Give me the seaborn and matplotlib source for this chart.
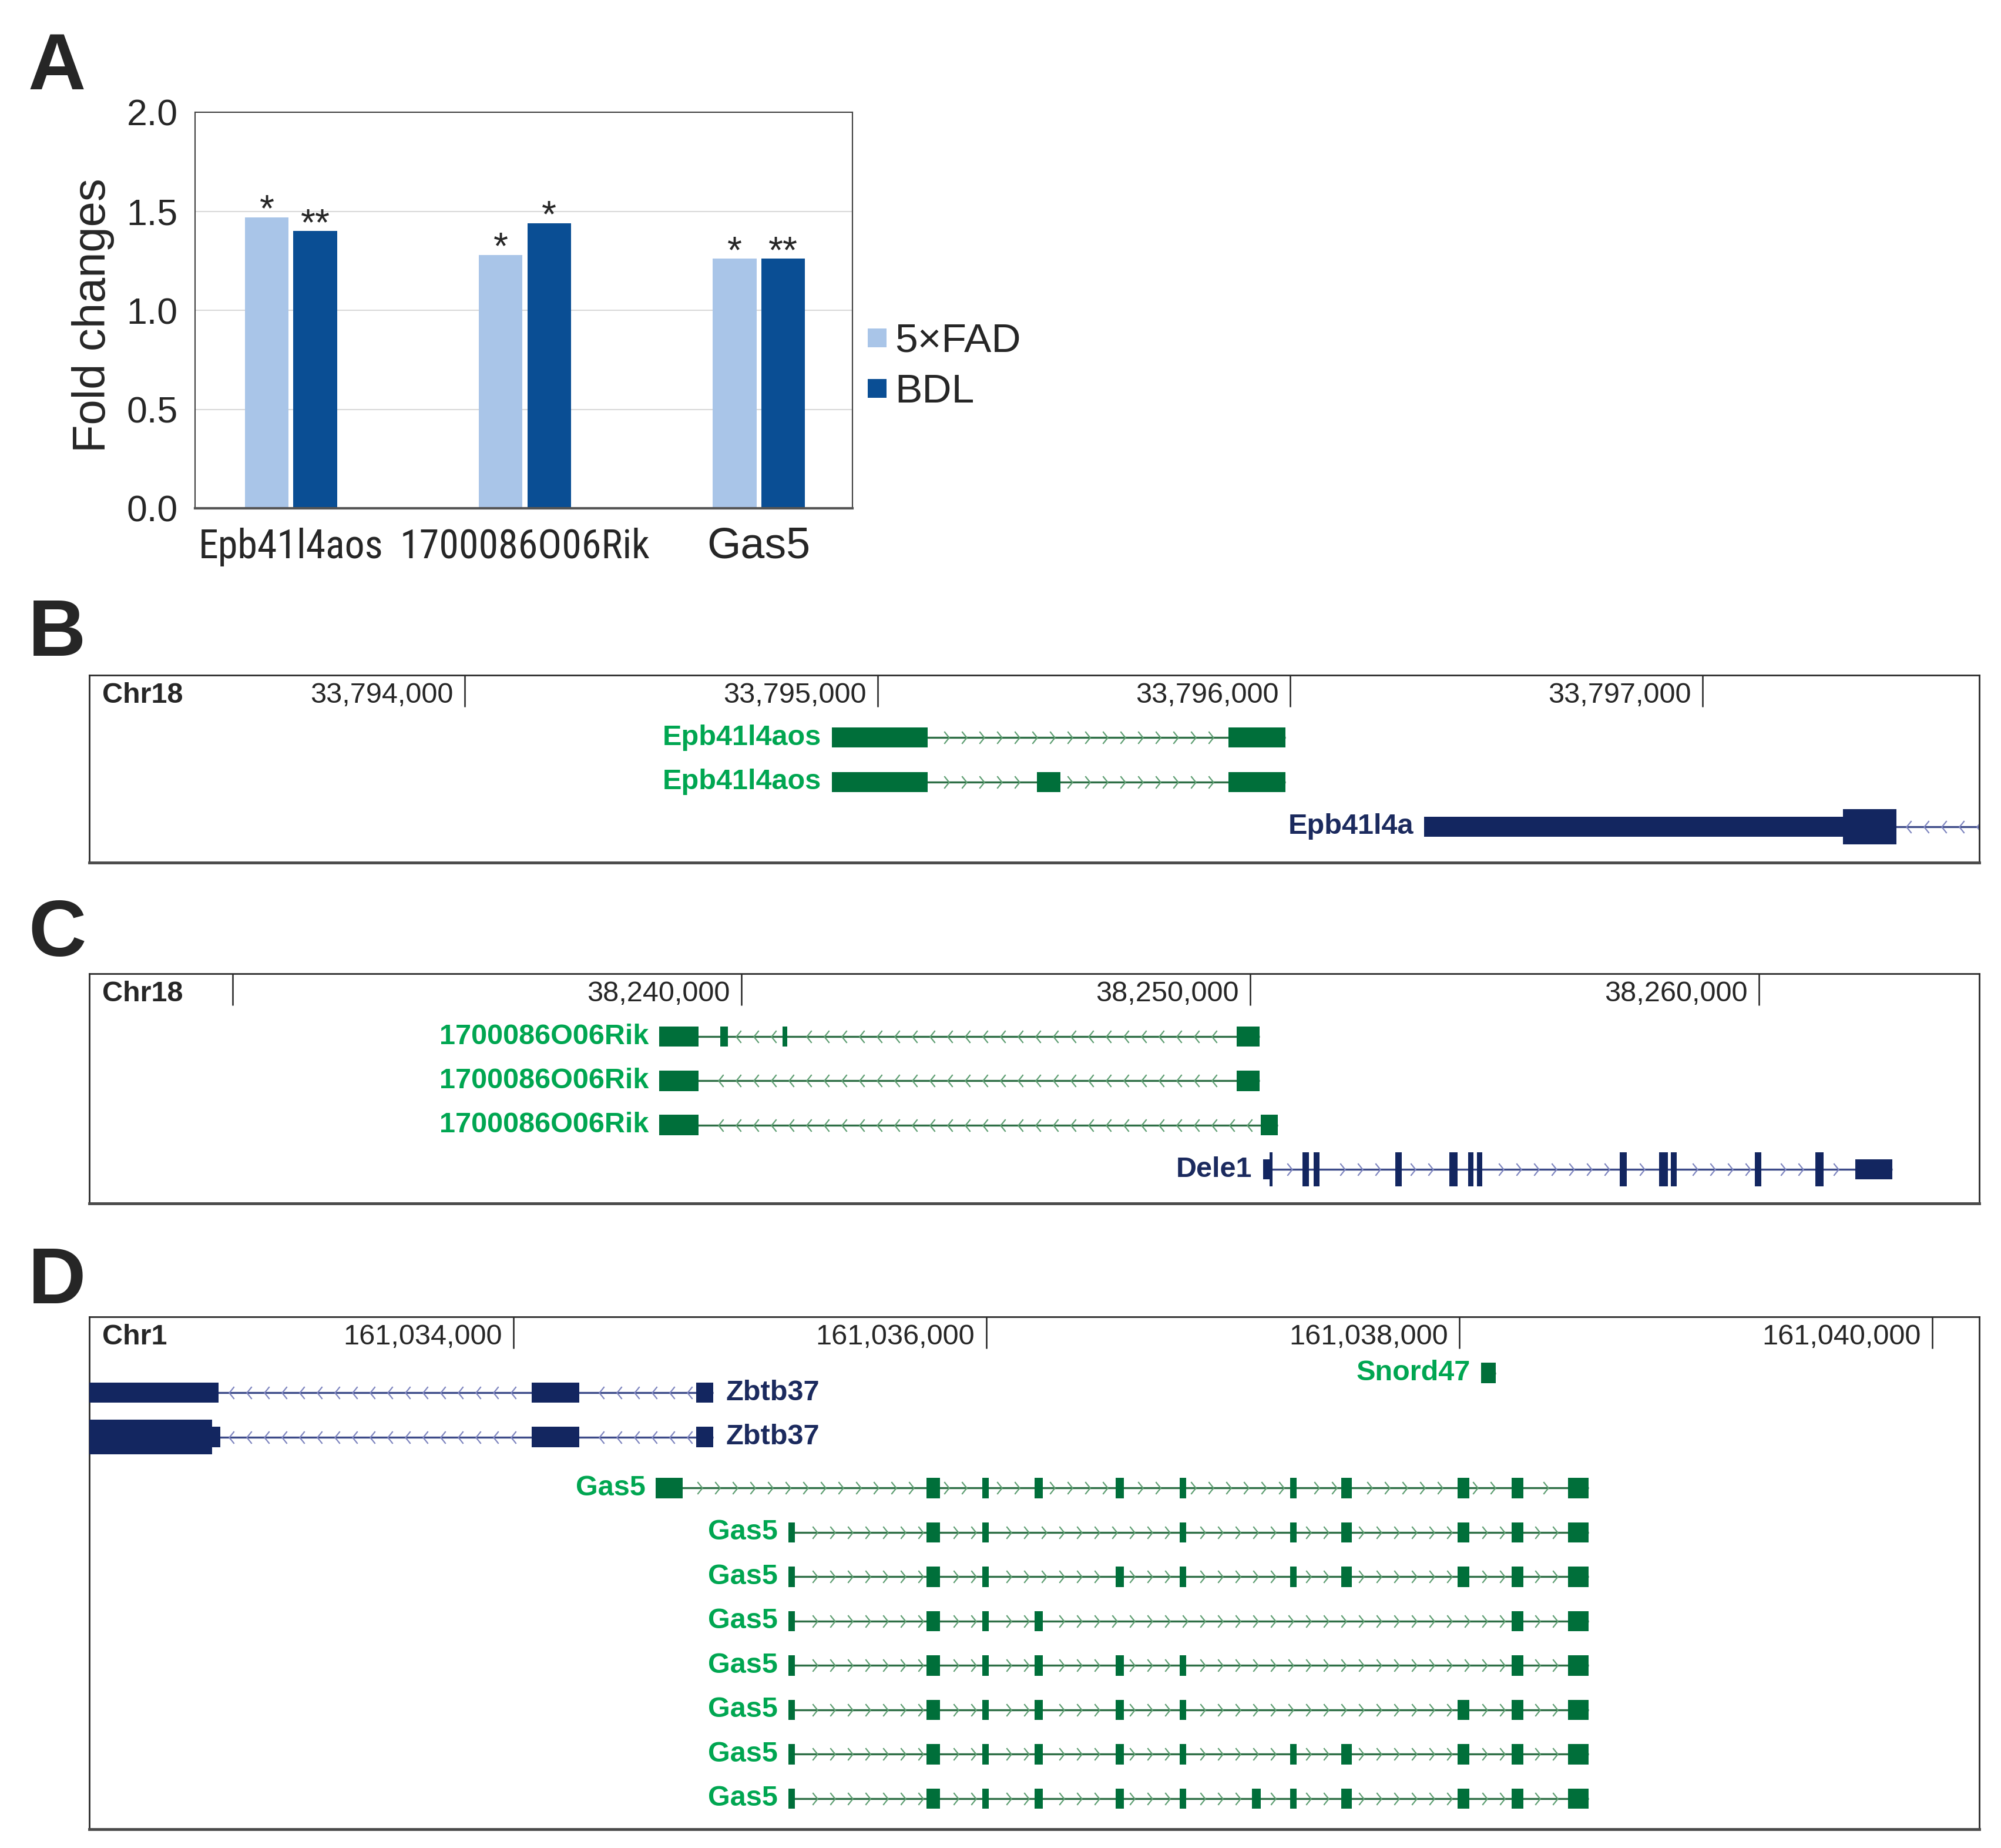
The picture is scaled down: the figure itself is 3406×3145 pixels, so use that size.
import numpy as np
import pandas as pd
import matplotlib
matplotlib.use('Agg')
import matplotlib.pyplot as plt
from matplotlib import font_manager
from matplotlib.path import Path
from matplotlib.lines import Line2D
import seaborn as sns

sns.set_style('white')
plt.rcParams['font.family'] = ['Liberation Sans', 'DejaVu Sans']

# ---------------- panel A data ----------------
GENES = ['Epb41l4aos', '1700086O06Rik', 'Gas5']
GROUPS = ['5×FAD', 'BDL']
FAD_FOLD = [1.47, 1.28, 1.26]
BDL_FOLD = [1.40, 1.44, 1.26]
FAD_STARS = ['*', '*', '*']
BDL_STARS = ['**', '*', '**']
Y_TICKS = [0.0, 0.5, 1.0, 1.5, 2.0]

# ---------------- panel B data (Chr18) ----------------
B_CHROM = 'Chr18'
B_RANGE = [33793090, 33797670]
B_TICKS = [33794000, 33795000, 33796000, 33797000]
B_TICK_LABELS = ['33,794,000', '33,795,000', '33,796,000', '33,797,000']
EPB41L4AOS_1 = [(33794889, 33795122), (33795850, 33795988)]
EPB41L4AOS_2 = [(33794889, 33795122), (33795386, 33795444), (33795850, 33795988)]
EPB41L4A = [(33796325, 33797469)]
EPB41L4A_CDS = (33797340, 33797469)
EPB41L4A_SPAN = (33796325, 33797800)

# ---------------- panel C data (Chr18) ----------------
C_CHROM = 'Chr18'
C_RANGE = [38227180, 38264330]
C_TICKS = [38230000, 38240000, 38250000, 38260000]
C_TICK_LABELS = ['', '38,240,000', '38,250,000', '38,260,000']
RIK_1 = [(38238384, 38239158), (38239584, 38239735), (38240808, 38240900), (38249736, 38250189)]
RIK_2 = [(38238384, 38239158), (38249736, 38250189)]
RIK_3 = [(38238384, 38239158), (38250212, 38250536)]
DELE1 = [(38250250, 38250440), (38251030, 38251150), (38251245, 38251365), (38252850, 38252975),
         (38253910, 38254075), (38254280, 38254385), (38254455, 38254560), (38257265, 38257400),
         (38258040, 38258205), (38258265, 38258385), (38259915, 38260050), (38261105, 38261270),
         (38261893, 38262620)]
DELE1_CDS = (38250376, 38261270)

# ---------------- panel D data (Chr1) ----------------
D_CHROM = 'Chr1'
D_RANGE = [161032207, 161040199]
D_TICKS = [161034000, 161036000, 161038000, 161040000]
D_TICK_LABELS = ['161,034,000', '161,036,000', '161,038,000', '161,040,000']
ZBTB37_1 = [(161032100, 161032754), (161034078, 161034280), (161034774, 161034846)]
ZBTB37_2 = [(161032100, 161032762), (161034078, 161034280), (161034774, 161034846)]
ZBTB37_2_CDS = (161032100, 161032725)
SNORD47 = [(161038093, 161038155)]
GAS5_FIRST_LONG = (161034603, 161034716)
GAS5_FIRST_SHORT = (161035164, 161035191)
GAS5_STARTS = [161035748, 161035982, 161036205, 161036546, 161036817, 161037124,
               161037285, 161037501, 161037994, 161038221, 161038459]
GAS5_ENDS = [161035804, 161036011, 161036238, 161036583, 161036846, 161037160,
             161037312, 161037546, 161038042, 161038270, 161038548]
# indices into GAS5_STARTS/ENDS for each isoform (A=0 ... K=10)
GAS5_ISOFORMS = [
    [0, 1, 2, 3, 4, 6, 7, 8, 9, 10],
    [0, 1, 4, 6, 7, 8, 9, 10],
    [0, 1, 3, 4, 6, 7, 8, 9, 10],
    [0, 1, 2, 9, 10],
    [0, 1, 2, 3, 4, 9, 10],
    [0, 1, 2, 3, 4, 8, 9, 10],
    [0, 1, 2, 3, 4, 6, 7, 8, 9, 10],
    [0, 1, 2, 3, 4, 5, 6, 7, 8, 9, 10],
]

# ---------------- styles ----------------
LIGHT = '#A9C5E8'
DARK = '#0A4E94'
STYLE = {
    'green': dict(exon='#006F3A', line='#2D6E45', chev='#5E9E72', text='#00A651'),
    'navy': dict(exon='#132660', line='#3C4A88', chev='#7E85BF', text='#1B2A5E'),
}
THIN = 0.46
THICK = 0.78

W, H = 3406, 3145
fig = plt.figure(figsize=(W / 100, H / 100), dpi=100, facecolor='white')


def add_px_axes(x0, y0, x1, y1):
    return fig.add_axes([x0 / W, 1 - y1 / H, (x1 - x0) / W, (y1 - y0) / H])


avail = {f.name for f in font_manager.fontManager.ttflist}
NARROW = None
for cand in ['Liberation Sans Narrow', 'Arial Narrow', 'Roboto Condensed', 'Open Sans Condensed']:
    if cand in avail:
        NARROW = cand
        break

# ================= panel A =================
axA = add_px_axes(332, 191, 1451, 865)
df = pd.DataFrame({'gene': GENES * 2,
                   'fold': FAD_FOLD + BDL_FOLD,
                   'group': [GROUPS[0]] * len(GENES) + [GROUPS[1]] * len(GENES)})
sns.barplot(data=df, x='gene', y='fold', hue='group', order=GENES, hue_order=GROUPS,
            palette=[LIGHT, DARK], saturation=1, width=0.415, gap=0.1,
            errorbar=None, legend=False, linewidth=0, ax=axA)
axA.set_xlim(-0.41, 2.40)
axA.set_ylim(0, 2.0)
axA.set_yticks(Y_TICKS)
axA.set_yticklabels(['{:.1f}'.format(v) for v in Y_TICKS])
axA.yaxis.grid(True, color='#D9D9D9', lw=1.5)
axA.set_axisbelow(True)
axA.tick_params(axis='y', length=0, pad=21, labelsize=45)
axA.tick_params(axis='x', length=0, pad=61, labelsize=53)
for lbl in axA.get_xticklabels():
    lbl.set_verticalalignment('baseline')
    if lbl.get_text() != 'Gas5':
        if NARROW:
            lbl.set_fontfamily(NARROW)
            lbl.set_fontsize(49)
        else:
            lbl.set_fontsize(53 * 0.83)
axA.set_xlabel('')
axA.set_ylabel('Fold changes', fontsize=56)
axA.yaxis.set_label_coords(-0.122, 0.487)
for side in ['top', 'left', 'right']:
    axA.spines[side].set_color('#404040')
    axA.spines[side].set_linewidth(1.5)
axA.spines['bottom'].set_color('#555555')
axA.spines['bottom'].set_linewidth(3)

for cont, stars in zip(axA.containers, [FAD_STARS, BDL_STARS]):
    for bar, s in zip(cont, stars):
        axA.annotate(s, (bar.get_x() + bar.get_width() / 2, bar.get_height()),
                     xytext=(0, -5), textcoords='offset points',
                     ha='center', va='baseline', fontsize=46)

handles = [Line2D([], [], ls='', marker='s', markersize=23, markerfacecolor=c, markeredgewidth=0)
           for c in [LIGHT, DARK]]
axA.legend(handles, GROUPS, loc='center left', bbox_to_anchor=(1476 / W, 1 - 624 / H),
           bbox_transform=fig.transFigure, frameon=False, fontsize=50, handlelength=0.5,
           handletextpad=0.18, labelspacing=0.32, borderpad=0, borderaxespad=0)

# ================= genome panels =================
CHEV_R = Path([(-0.4, 1), (0.4, 0), (-0.4, -1)], [Path.MOVETO, Path.LINETO, Path.LINETO])
CHEV_L = Path([(0.4, 1), (-0.4, 0), (0.4, -1)], [Path.MOVETO, Path.LINETO, Path.LINETO])


def setup_track(ax, chrom, xr, ticks, tick_labels, ylim):
    ax.set_xlim(xr)
    ax.set_ylim(ylim)
    ax.set_xticks([])
    ax.set_yticks([])
    for side in ['top', 'left', 'right']:
        ax.spines[side].set_color('#2B2B2B')
        ax.spines[side].set_linewidth(2.0)
    ax.spines['bottom'].set_color('#4A4A4A')
    ax.spines['bottom'].set_linewidth(3.5)
    h_px = ax.get_position().height * H
    tr = ax.get_xaxis_transform()
    ax.vlines(ticks, 1 - 54 / h_px, 1, transform=tr, color='#222222', lw=1.8)
    for t, lab in zip(ticks, tick_labels):
        ax.annotate(lab, xy=(t, 1), xycoords=tr, xytext=(-14, -25), textcoords='offset points',
                    ha='right', va='center', fontsize=35)
    ax.annotate(chrom, xy=(0, 1), xycoords='axes fraction', xytext=(16, -25),
                textcoords='offset points', ha='left', va='center', fontsize=35, fontweight='bold')


def draw_tx(ax, row, exons, strand, color, label, side='left', cds=None, span=None):
    st = STYLE[color]
    if span is None:
        span = (exons[0][0], exons[-1][1])
    ax.plot(span, [row, row], color=st['line'], lw=2.4, zorder=2, solid_capstyle='butt')
    x0, x1 = ax.get_xlim()
    step = 30 * (x1 - x0) / (ax.get_position().width * W)
    xs = np.arange(span[0] + step / 2, span[1], step)
    xs = [x for x in xs if not any(s - step * 0.3 <= x <= e + step * 0.3 for s, e in exons)]
    ax.plot(xs, [row] * len(xs), ls='', marker=CHEV_R if strand == '+' else CHEV_L,
            markersize=15, markeredgecolor=st['chev'], markerfacecolor='none',
            markeredgewidth=1.6, zorder=2)
    ax.broken_barh([(s, e - s) for s, e in exons], (row - THIN / 2, THIN),
                   facecolor=st['exon'], edgecolor='none', zorder=3)
    if cds is not None:
        thick = [(max(s, cds[0]), min(e, cds[1])) for s, e in exons if min(e, cds[1]) > max(s, cds[0])]
        ax.broken_barh([(s, e - s) for s, e in thick], (row - THICK / 2, THICK),
                       facecolor=st['exon'], edgecolor='none', zorder=3)
    if side == 'left':
        ax.annotate(label, xy=(exons[0][0], row), xytext=(-13, 0), textcoords='offset points',
                    ha='right', va='center', fontsize=35, fontweight='bold', color=st['text'])
    else:
        ax.annotate(label, xy=(exons[-1][1], row), xytext=(15, 0), textcoords='offset points',
                    ha='left', va='center', fontsize=35, fontweight='bold', color=st['text'])


# ---- panel B ----
axB = add_px_axes(152, 1149, 3369, 1468)
setup_track(axB, B_CHROM, B_RANGE, B_TICKS, B_TICK_LABELS, (2.803, -1.395))
draw_tx(axB, 0, EPB41L4AOS_1, '+', 'green', 'Epb41l4aos')
draw_tx(axB, 1, EPB41L4AOS_2, '+', 'green', 'Epb41l4aos')
draw_tx(axB, 2, EPB41L4A, '-', 'navy', 'Epb41l4a', cds=EPB41L4A_CDS, span=EPB41L4A_SPAN)

# ---- panel C ----
axC = add_px_axes(152, 1657, 3369, 2048)
setup_track(axC, C_CHROM, C_RANGE, C_TICKS, C_TICK_LABELS, (3.77, -1.421))
draw_tx(axC, 0, RIK_1, '-', 'green', '1700086O06Rik')
draw_tx(axC, 1, RIK_2, '-', 'green', '1700086O06Rik')
draw_tx(axC, 2, RIK_3, '-', 'green', '1700086O06Rik')
draw_tx(axC, 3, DELE1, '+', 'navy', 'Dele1', cds=DELE1_CDS)

# ---- panel D ----
axD = add_px_axes(152, 2241, 3369, 3113)
setup_track(axD, D_CHROM, D_RANGE, D_TICKS, D_TICK_LABELS, (9.84, -1.709))
draw_tx(axD, -0.44, SNORD47, '+', 'green', 'Snord47')
draw_tx(axD, 0, ZBTB37_1, '-', 'navy', 'Zbtb37', side='right')
draw_tx(axD, 1, ZBTB37_2, '-', 'navy', 'Zbtb37', side='right', cds=ZBTB37_2_CDS)
for i, iso in enumerate(GAS5_ISOFORMS):
    first = GAS5_FIRST_LONG if i == 0 else GAS5_FIRST_SHORT
    exons = [first] + [(GAS5_STARTS[k], GAS5_ENDS[k]) for k in iso]
    draw_tx(axD, 2.15 + i, exons, '+', 'green', 'Gas5')

# panel letters
for letter, (x, y) in zip('ABCD', [(48, 152), (48, 1116), (48, 1627), (48, 2218)]):
    fig.text(x / W, 1 - y / H, letter, fontsize=98, fontweight='bold', ha='left', va='baseline')

fig.savefig('out.png', dpi=100, facecolor='white')
